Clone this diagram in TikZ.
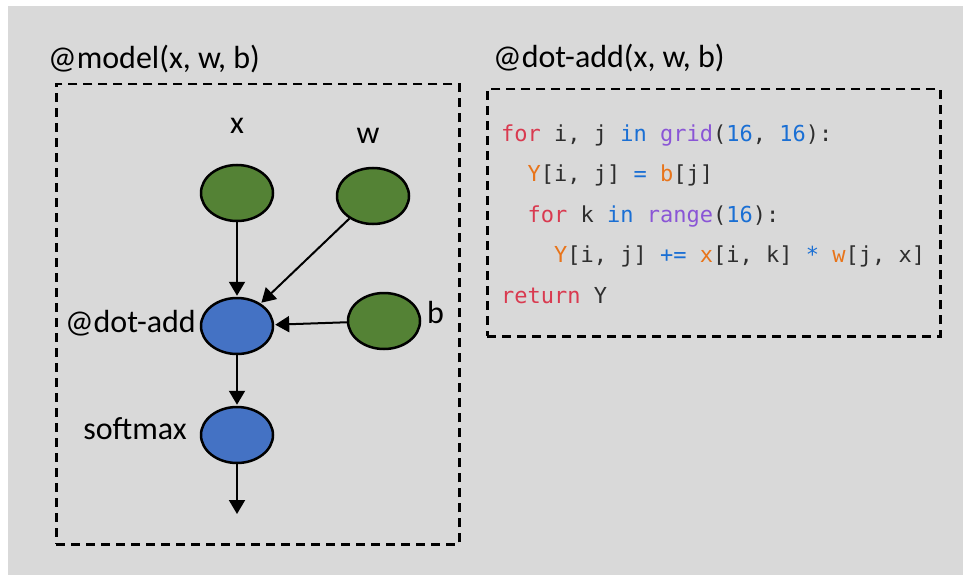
\documentclass[tikz,border=0pt]{standalone}
\usepackage{fontspec}
\setmainfont{Carlito}
\newfontfamily\codefont{DejaVu Sans Mono}
\usetikzlibrary{shapes.geometric,arrows.meta}
\definecolor{bggray}{HTML}{D9D9D9}
\definecolor{nodegreen}{HTML}{548235}
\definecolor{nodeblue}{HTML}{4472C4}
\definecolor{kwred}{HTML}{D93A50}
\definecolor{kwblue}{HTML}{1A6FD4}
\definecolor{kwpurple}{HTML}{8A55D6}
\definecolor{kworange}{HTML}{E8741A}
\definecolor{codedark}{HTML}{2E2E2E}
\newcommand\ckw[1]{\textcolor{kwred}{#1}}
\newcommand\cbl[1]{\textcolor{kwblue}{#1}}
\newcommand\cpu[1]{\textcolor{kwpurple}{#1}}
\newcommand\cor[1]{\textcolor{kworange}{#1}}
\tikzset{
  graphnode/.style={ellipse, draw=black, line width=2.5pt, minimum width=72pt, minimum height=56pt, inner sep=0pt},
  innode/.style={graphnode, fill=nodegreen},
  opnode/.style={graphnode, fill=nodeblue},
  arr/.style={line width=2pt, -{Triangle[length=14pt,width=16pt]}, shorten >=1pt},
  dashbox/.style={draw=black, line width=2.5pt, dash pattern=on 9pt off 6pt},
  lbl/.style={font=\fontsize{32}{32}\selectfont, text=black, inner sep=0pt},
  codeline/.style={font=\codefont\fontsize{22}{22}\selectfont, text=codedark, inner sep=0pt, anchor=base west},
}
\begin{document}
\begin{tikzpicture}[x=1pt,y=-1pt]
\useasboundingbox (0,0) rectangle (963,575);
\fill[bggray] (8,6) rectangle (963,575);
% boxes
\node[dashbox, minimum width=403pt, minimum height=460pt, anchor=north west, inner sep=0pt] (modelbox) at (55,83) {};
\node[dashbox, minimum width=453pt, minimum height=247pt, anchor=north west, inner sep=0pt] (codebox) at (486,88) {};
\node[lbl, anchor=base west] (modellbl) at (48,69) {@model(x, w, b)};
\node[lbl, anchor=base west] (dotlbl) at (493,68) {@dot-add(x, w, b)};
% nodes
\node[innode] (x) at (237,193) {};
\node[innode] (w) at (373,196) {};
\node[innode] (b) at (384,321) {};
\node[opnode] (dot) at (237,326) {};
\node[opnode] (soft) at (237,435) {};
\coordinate (out) at (237,515);
% labels
\node[lbl, anchor=base] (xl) at (237,133) {x};
\node[lbl, anchor=base] (wl) at (368,143) {w};
\node[lbl, anchor=base west] (bl) at (427,323) {b};
\node[lbl, anchor=base east] (dotl) at (196,332) {@dot-add};
\node[lbl, anchor=base east] (softl) at (187,439) {softmax};
% edges
\draw[arr] (x) -- (dot);
\draw[arr] (w) -- (dot);
\draw[arr] (b) -- (dot);
\draw[arr] (dot) -- (soft);
\draw[arr] (soft) -- (out);
% code
\node[codeline] (c1) at (501,141) {\ckw{for} i, j \cbl{in} \cpu{grid}(\cbl{16}, \cbl{16}):};
\node[codeline] (c2) at (527.5,181.5) {\cor{Y}[i, j] \cbl{=} \cor{b}[j]};
\node[codeline] (c3) at (527.5,222) {\ckw{for} k \cbl{in} \cpu{range}(\cbl{16}):};
\node[codeline] (c4) at (554,262.5) {\cor{Y}[i, j] \cbl{+=} \cor{x}[i, k] \cbl{*} \cor{w}[j, x]};
\node[codeline] (c5) at (501,303) {\ckw{return} Y};
\end{tikzpicture}
\end{document}
